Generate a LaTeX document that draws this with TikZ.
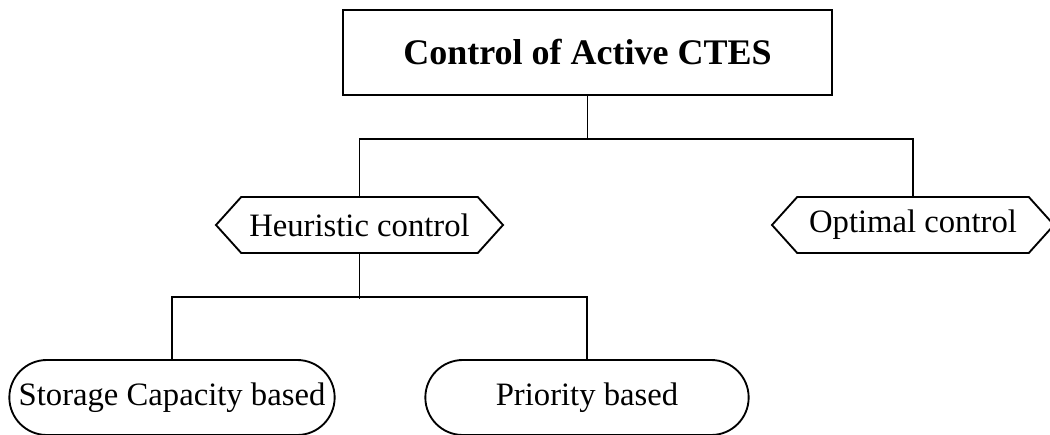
\documentclass[tikz,border=0pt]{standalone}
\usepackage{fontspec}
\setmainfont{Liberation Serif}
\usepackage{tikz}
\usetikzlibrary{shapes,positioning,calc}

\tikzset{
    headbox/.style={draw, line width=1.4pt, rectangle, minimum width=366.75pt, minimum height=63.75pt, font=\fontsize{27}{30}\selectfont\bfseries},
    branchbox/.style={draw, line width=1.4pt, signal, signal to=west and east, signal pointer angle=96, minimum height=42pt, inner xsep=2pt, font=\fontsize{24.5}{28}\selectfont},
    leafbox/.style={draw, line width=1.4pt, rounded rectangle, minimum height=56.25pt, inner xsep=1pt, font=\fontsize{24.5}{28}\selectfont},
    link/.style={line width=1.4pt}
}

\begin{document}
\begin{tikzpicture}[x=0.75pt, y=-0.75pt]
    \useasboundingbox (0,0) rectangle (1050,435);
    % top of the tree
    \node[headbox] (ctes) at (587.5,52.5) {Control of Active CTES};
    \node[branchbox, minimum width=215.25pt] (heur) at (359.5,225) {Heuristic control};
    \node[branchbox, minimum width=211.5pt] (opt) at (913,225) {Optimal control};
    % leaves
    \node[leafbox, minimum width=246pt] (store) at (172,397.5) {Storage Capacity based};
    \node[leafbox, minimum width=244.5pt] (prio) at (587,397.5) {Priority based};

    \draw[link] (ctes.south) -- ++(0,43) coordinate (j1);
    \draw[link] (heur.north) |- (j1) -| (opt.north);
    \draw[link] (heur.south) -- ++(0,45) coordinate (j2);
    \draw[link] (store.north) |- ($(j2)+(0,-2)$) -| (prio.north);
\end{tikzpicture}
\end{document}
